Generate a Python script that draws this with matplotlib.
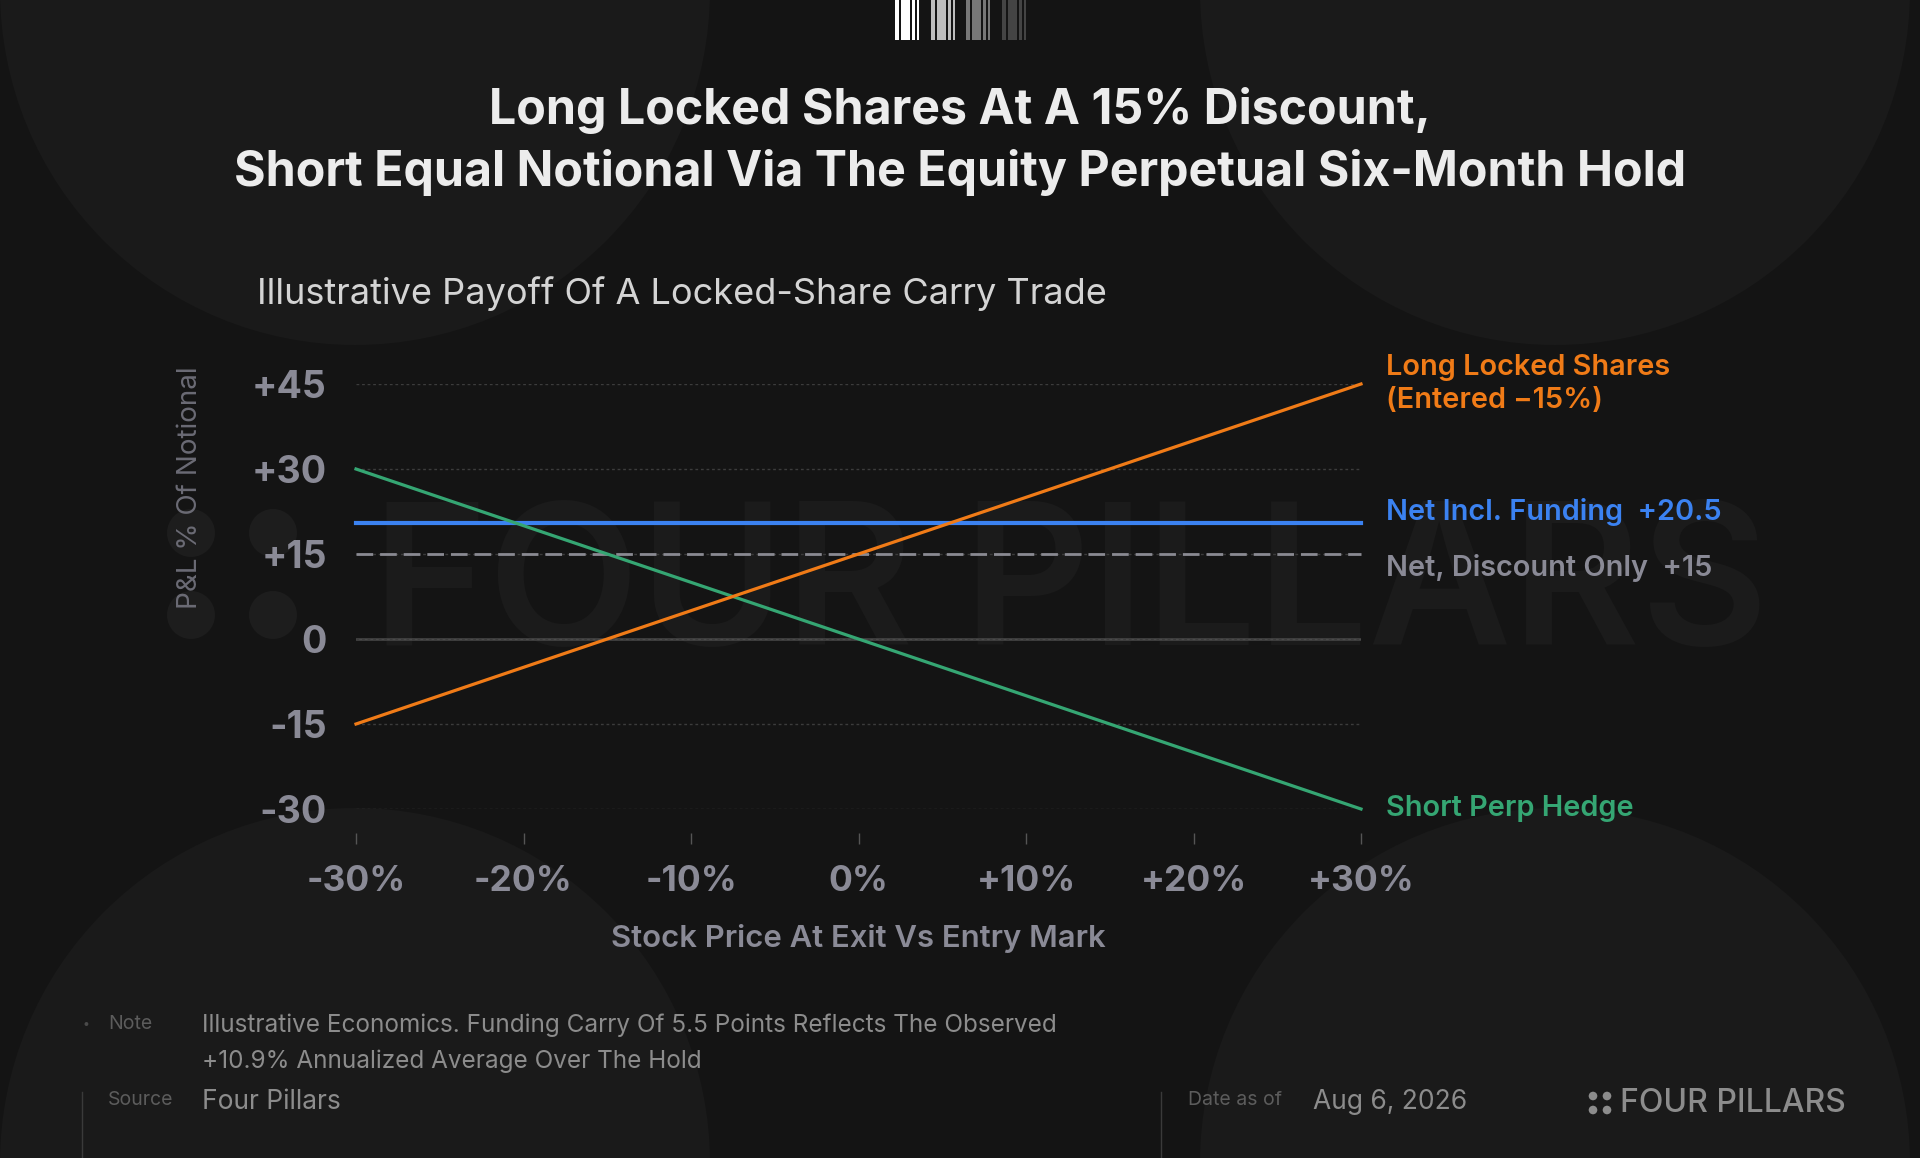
import matplotlib
matplotlib.use('Agg')
import matplotlib.pyplot as plt
from matplotlib.patches import Circle, Rectangle

# data
price_moves = [-30, -20, -10, 0, 10, 20, 30]
long_locked = [-15, -5, 5, 15, 25, 35, 45]
short_perp = [30, 20, 10, 0, -10, -20, -30]
net_funding = [20.5] * len(price_moves)
net_discount = [15] * len(price_moves)
y_ticks = [-30, -15, 0, 15, 30, 45]
y_labels = ['-30', '-15', '0', '+15', '+30', '+45']
x_labels = ['-30%', '-20%', '-10%', '0%', '+10%', '+20%', '+30%']

BG = '#141414'
ORANGE = '#f07b17'
BLUE = '#3b82f1'
GREEN = '#35a673'
GREY = '#8a8a96'
FONT = 'Inter'

plt.rcParams['font.family'] = [FONT, 'DejaVu Sans']

fig = plt.figure(figsize=(19.2, 11.58), dpi=100, facecolor=BG)

# background layer in pixel coords
bg = fig.add_axes([0, 0, 1, 1], zorder=0)
bg.set_xlim(0, 1920)
bg.set_ylim(1158, 0)
bg.axis('off')
bg.set_facecolor(BG)
for cx, cy in [(355, -10), (1555, -10), (355, 1163), (1555, 1163)]:
    bg.add_patch(Circle((cx, cy), 355, color='#1a1a1a', lw=0, zorder=0))

# barcode mark at the top
groups = [(895, '#ffffff'), (931, '#bdbdbd'), (966, '#777777'), (1002, '#444444')]
stripes = [(0, 4.3), (5.7, 3.6), (9.3, 1.2), (10.7, 4.3), (16.7, 3.3), (21.7, 2.3)]
for gx, col in groups:
    for off, w in stripes:
        bg.add_patch(Rectangle((gx + off, 0), w, 40, color=col, lw=0))

# watermark
for cx, cy in [(191, 533), (273, 533), (191, 615), (273, 615)]:
    bg.add_patch(Circle((cx, cy), 24, color='#1d1d1d', lw=0))
bg.text(372, 645, 'FOUR PILLARS', fontsize=142, color='#1b1b1b',
        fontweight='semibold', va='baseline', ha='left')

# titles
bg.text(960, 110, 'Long Locked Shares At A 15% Discount,', fontsize=34.8,
        fontweight='bold', color='#ececec', ha='center', va='center')
bg.text(960, 172, 'Short Equal Notional Via The Equity Perpetual Six-Month Hold',
        fontsize=34.8, fontweight='bold', color='#ececec', ha='center', va='center')
bg.text(257, 294, 'Illustrative Payoff Of A Locked-Share Carry Trade', fontsize=26,
        color='#d4d4d4', ha='left', va='center')

# y axis label
bg.text(190, 488, 'P&L % Of Notional', fontsize=20, color='#6b6b75',
        rotation=90, ha='center', va='center')

# main chart
ax = fig.add_axes([356 / 1920, 1 - 809 / 1158, 1005 / 1920, 425 / 1158], zorder=2)
ax.set_facecolor('none')
ax.set_xlim(-30, 30)
ax.set_ylim(-30, 45)
for s in ax.spines.values():
    s.set_visible(False)
ax.spines['bottom'].set_position(('outward', 17))

ax.set_yticks(y_ticks)
ax.set_yticklabels(y_labels)
ax.set_xticks(price_moves)
ax.set_xticklabels(x_labels)
ax.tick_params(axis='y', length=0, pad=21, labelsize=27, labelcolor=GREY)
ax.tick_params(axis='x', length=8, width=1, color='#555555', pad=15,
               labelsize=25.5, labelcolor=GREY)
for lab in ax.get_xticklabels() + ax.get_yticklabels():
    lab.set_fontweight('bold')

ax.grid(axis='y', linestyle=(0, (2, 2)), color='#3c3c3c', lw=1)
ax.grid(axis='x', visible=False)
ax.axhline(0, color='#4a4a4a', lw=1.8, zorder=1)

ax.plot(price_moves, net_funding, color=BLUE, lw=3, clip_on=False, zorder=3)
ax.plot(price_moves, net_discount, color='#8a8a92', lw=2, ls=(0, (6, 2.5)),
        clip_on=False, zorder=3)
ax.plot(price_moves, short_perp, color=GREEN, lw=2.3, clip_on=False, zorder=4)
ax.plot(price_moves, long_locked, color=ORANGE, lw=2.3, clip_on=False, zorder=5)

ax.set_xlabel('Stock Price At Exit Vs Entry Mark', fontsize=22.4,
              fontweight='semibold', color=GREY, labelpad=19)

# end labels
end_x = price_moves[-1]
lab_kw = dict(textcoords='offset points', ha='left', va='center', fontsize=20.8,
              fontweight='semibold', annotation_clip=False)
ax.annotate('Long Locked Shares\n(Entered \u221215%)', xy=(end_x, long_locked[-1]),
            xytext=(18, 0), color=ORANGE, linespacing=1.3, **lab_kw)
ax.annotate('Net Incl. Funding  +20.5', xy=(end_x, net_funding[-1]),
            xytext=(18, 8), color=BLUE, **lab_kw)
ax.annotate('Net, Discount Only  +15', xy=(end_x, net_discount[-1]),
            xytext=(18, -10), color=GREY, **lab_kw)
ax.annotate('Short Perp Hedge', xy=(end_x, short_perp[-1]),
            xytext=(18, 0), color=GREEN, **lab_kw)

# footer
small = '#5c5c5c'
bg.text(86, 1025, '\u2022', fontsize=9, color='#4a4a4a', ha='center', va='center')
bg.text(108, 1024, 'Note', fontsize=14, color=small, ha='left', va='center')
bg.text(202, 1025, 'Illustrative Economics. Funding Carry Of 5.5 Points Reflects The Observed',
        fontsize=17.5, color='#8c8c8c', ha='left', va='center')
bg.text(202, 1061, '+10.9% Annualized Average Over The Hold',
        fontsize=17.5, color='#8c8c8c', ha='left', va='center')
bg.plot([82, 82], [1092, 1158], color='#3a3a3a', lw=1)
bg.text(108, 1100, 'Source', fontsize=14, color=small, ha='left', va='center')
bg.text(202, 1102, 'Four Pillars', fontsize=19, color='#8c8c8c', ha='left', va='center')
bg.plot([1161, 1161], [1092, 1158], color='#3a3a3a', lw=1)
bg.text(1188, 1100, 'Date as of', fontsize=14, color=small, ha='left', va='center')
bg.text(1313, 1102, 'Aug 6, 2026', fontsize=19, color='#8c8c8c', ha='left', va='center')
for cx, cy in [(1593, 1096), (1607, 1096), (1593, 1110), (1607, 1110)]:
    bg.add_patch(Circle((cx, cy), 4.3, color='#8c8c8c', lw=0))
bg.text(1620, 1103, 'FOUR PILLARS', fontsize=23, fontweight='medium',
        color='#8c8c8c', ha='left', va='center')

fig.savefig('out.png', dpi=100, facecolor=BG)
plt.close(fig)
